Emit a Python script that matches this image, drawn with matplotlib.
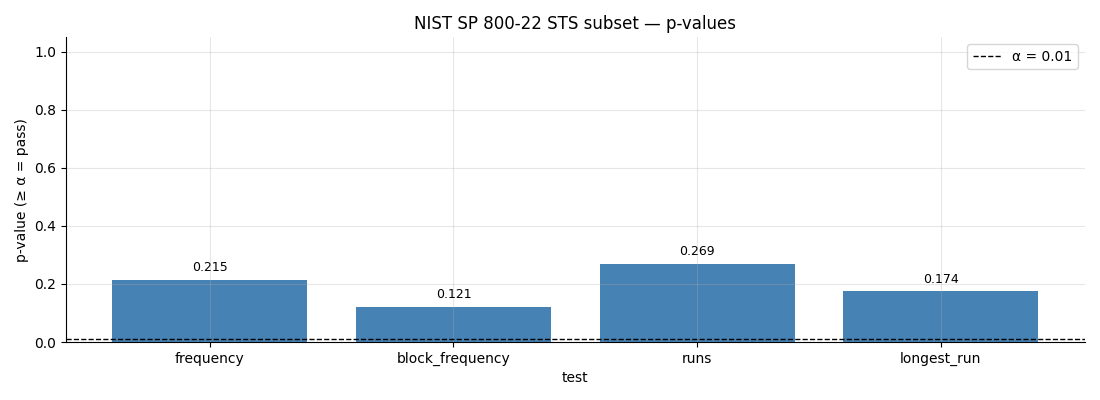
import matplotlib.pyplot as plt
import numpy as np

tests = ['frequency', 'block_frequency', 'runs', 'longest_run']
p_values = [0.215, 0.121, 0.269, 0.174]
alpha = 0.01

fig = plt.figure(figsize=(11, 4), dpi=100)
ax = fig.add_subplot(1, 1, 1)
x = np.arange(len(tests))
bars = ax.bar(x, p_values, width=0.8, color='steelblue')
for b, v in zip(bars, p_values):
    ax.annotate(f'{v:.3f}', (b.get_x() + b.get_width() / 2, v),
                xytext=(0, 4), textcoords='offset points',
                ha='center', va='bottom', fontsize=9)
ax.axhline(alpha, color='black', linestyle='--', linewidth=1, label='α = 0.01')
ax.set_xticks(x)
ax.set_xticklabels(tests)
ax.set_ylim(0, 1.05)
ax.grid(True, alpha=0.3)
ax.spines['top'].set_visible(False)
ax.spines['right'].set_visible(False)
ax.legend(loc='upper right')
ax.set_title('NIST SP 800-22 STS subset — p-values')
ax.set_xlabel('test')
ax.set_ylabel('p-value (≥ α = pass)')
fig.subplots_adjust(left=0.06, right=0.986, top=0.907, bottom=0.145)
fig.savefig('out.png')
